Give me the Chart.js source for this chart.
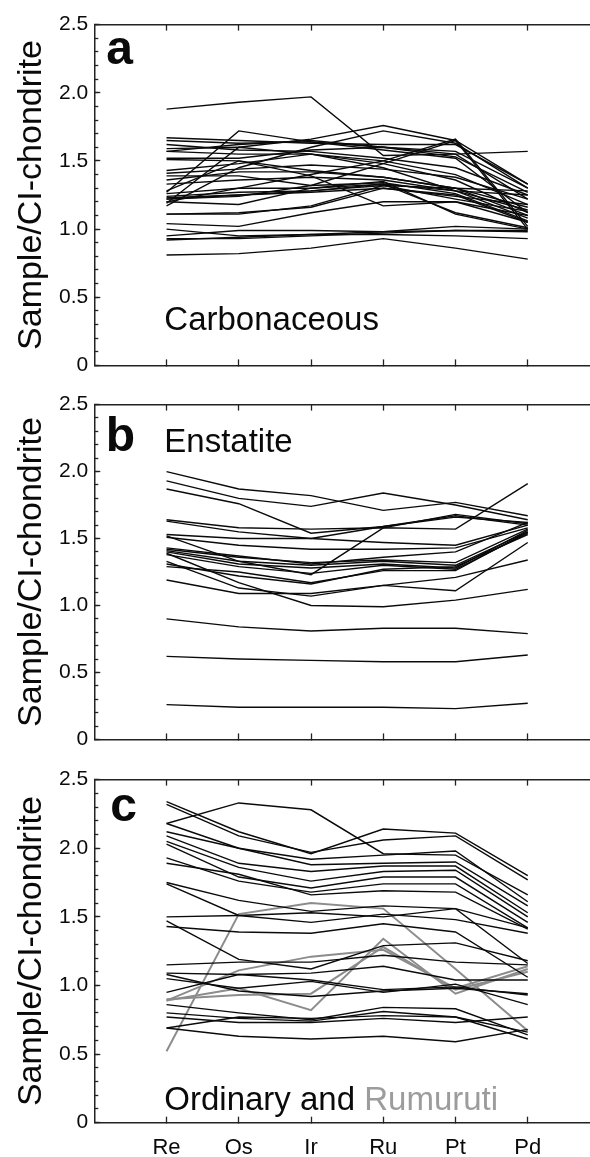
<!DOCTYPE html>
<html>
<head>
<meta charset="utf-8">
<script src="https://cdn.jsdelivr.net/npm/chart.js@4"></script>
<style>
  html, body { margin: 0; padding: 0; background: #fff; overflow: hidden; }
  body { width: 590px; height: 1157px; position: relative; }
  .panel { position: absolute; left: 0; width: 600px; }
</style>
</head>
<body>
<div class="panel" style="top:0px;height:390px"><canvas id="panelA" width="600" height="390"></canvas></div>
<div class="panel" style="top:380px;height:384px"><canvas id="panelB" width="600" height="384"></canvas></div>
<div class="panel" style="top:755px;height:402px"><canvas id="panelC" width="600" height="402"></canvas></div>
<script>
// element order along the x axis
const elements = ['Re', 'Os', 'Ir', 'Ru', 'Pt', 'Pd'];
const yTicks = [0, 0.5, 1.0, 1.5, 2.0, 2.5];

// one row per meteorite, values normalised to CI chondrite
const carbonaceous = [
  [1.88, 1.93, 1.97, 1.54, 1.55, 1.57],
  [1.67, 1.65, 1.63, 1.62, 1.62, 1.33],
  [1.65, 1.63, 1.64, 1.60, 1.57, 1.30],
  [1.62, 1.58, 1.57, 1.52, 1.45, 1.25],
  [1.59, 1.60, 1.55, 1.50, 1.40, 1.18],
  [1.57, 1.62, 1.65, 1.60, 1.55, 1.22],
  [1.57, 1.55, 1.55, 1.48, 1.36, 1.12],
  [1.52, 1.52, 1.58, 1.60, 1.53, 1.27],
  [1.51, 1.50, 1.43, 1.38, 1.30, 1.10],
  [1.43, 1.48, 1.55, 1.45, 1.28, 1.08],
  [1.41, 1.44, 1.47, 1.44, 1.38, 1.22],
  [1.39, 1.39, 1.32, 1.34, 1.26, 1.06],
  [1.36, 1.42, 1.42, 1.38, 1.30, 1.16],
  [1.33, 1.36, 1.38, 1.36, 1.28, 1.14],
  [1.27, 1.72, 1.64, 1.58, 1.52, 1.12],
  [1.28, 1.50, 1.39, 1.17, 1.20, 1.05],
  [1.19, 1.60, 1.66, 1.76, 1.65, 1.33],
  [1.17, 1.45, 1.60, 1.72, 1.63, 1.30],
  [1.26, 1.30, 1.30, 1.33, 1.28, 1.25],
  [1.24, 1.27, 1.28, 1.32, 1.30, 1.28],
  [1.23, 1.25, 1.27, 1.30, 1.25, 1.05],
  [1.22, 1.24, 1.32, 1.48, 1.65, 1.00],
  [1.20, 1.30, 1.40, 1.50, 1.66, 1.02],
  [1.22, 1.25, 1.28, 1.33, 1.12, 1.01],
  [1.20, 1.18, 1.30, 1.35, 1.11, 1.00],
  [1.11, 1.11, 1.17, 1.32, 1.22, 1.13],
  [1.11, 1.12, 1.16, 1.30, 1.24, 1.18],
  [1.04, 1.02, 1.12, 1.20, 1.20, 1.10],
  [1.00, 0.95, 0.96, 0.98, 0.99, 0.98],
  [0.95, 0.99, 0.99, 0.98, 1.02, 1.00],
  [0.93, 0.93, 0.95, 0.97, 0.99, 0.99],
  [0.92, 0.94, 0.96, 0.96, 0.95, 0.93],
  [0.81, 0.82, 0.86, 0.93, 0.86, 0.78]
];

const enstatite = [
  [2.00, 1.87, 1.82, 1.71, 1.77, 1.67],
  [1.93, 1.80, 1.74, 1.84, 1.75, 1.64],
  [1.87, 1.76, 1.54, 1.59, 1.67, 1.60],
  [1.64, 1.58, 1.57, 1.58, 1.57, 1.91],
  [1.63, 1.55, 1.50, 1.59, 1.66, 1.62],
  [1.53, 1.50, 1.50, 1.47, 1.45, 1.60],
  [1.51, 1.45, 1.42, 1.42, 1.43, 1.58],
  [1.52, 1.33, 1.23, 1.58, 1.68, 1.61],
  [1.43, 1.37, 1.31, 1.36, 1.40, 1.62],
  [1.42, 1.36, 1.32, 1.34, 1.32, 1.57],
  [1.41, 1.33, 1.30, 1.33, 1.30, 1.55],
  [1.40, 1.31, 1.28, 1.31, 1.28, 1.56],
  [1.38, 1.29, 1.24, 1.30, 1.27, 1.54],
  [1.31, 1.22, 1.16, 1.27, 1.29, 1.53],
  [1.29, 1.25, 1.17, 1.26, 1.26, 1.55],
  [1.33, 1.13, 1.07, 1.15, 1.11, 1.47],
  [1.39, 1.17, 1.00, 0.99, 1.04, 1.12],
  [1.19, 1.09, 1.09, 1.15, 1.21, 1.34],
  [0.90, 0.84, 0.81, 0.83, 0.83, 0.79],
  [0.62, 0.60, 0.59, 0.58, 0.58, 0.63],
  [0.26, 0.24, 0.24, 0.24, 0.23, 0.27]
];

const ordinary = [
  [2.34, 2.12, 1.96, 2.14, 2.11, 1.80],
  [2.32, 2.09, 1.97, 2.06, 2.09, 1.77],
  [2.18, 2.33, 2.28, 1.96, 1.95, 1.66],
  [2.18, 2.00, 1.92, 1.95, 1.98, 1.61],
  [2.12, 2.00, 1.88, 1.89, 1.90, 1.58],
  [2.09, 1.89, 1.83, 1.87, 1.87, 1.53],
  [2.05, 1.86, 1.76, 1.83, 1.84, 1.50],
  [2.03, 1.79, 1.71, 1.79, 1.79, 1.46],
  [1.93, 1.76, 1.68, 1.74, 1.74, 1.42],
  [1.89, 1.81, 1.66, 1.69, 1.68, 1.41],
  [1.75, 1.62, 1.54, 1.58, 1.56, 1.42],
  [1.74, 1.51, 1.46, 1.52, 1.48, 1.38],
  [1.50, 1.51, 1.53, 1.50, 1.56, 1.16],
  [1.43, 1.39, 1.38, 1.45, 1.39, 1.06],
  [1.47, 1.19, 1.12, 1.29, 1.31, 1.18],
  [1.15, 1.17, 1.17, 1.22, 1.17, 1.15],
  [1.09, 1.08, 1.09, 1.14, 1.04, 1.04],
  [1.08, 0.96, 0.92, 0.96, 0.98, 0.94],
  [1.05, 0.98, 1.03, 0.95, 1.01, 0.86],
  [0.95, 1.08, 1.04, 0.97, 0.99, 0.93],
  [0.86, 0.80, 0.75, 0.84, 0.83, 0.64],
  [0.80, 0.76, 0.74, 0.81, 0.77, 0.66],
  [0.77, 0.73, 0.73, 0.76, 0.73, 0.77],
  [0.69, 0.77, 0.76, 0.78, 0.77, 0.61],
  [0.69, 0.63, 0.61, 0.63, 0.59, 0.68]
];

const rumuruti = [
  [0.52, 1.52, 1.60, 1.56, 1.12, 0.67],
  [0.89, 0.98, 0.82, 1.34, 0.94, 1.12],
  [0.90, 0.93, 0.94, 1.28, 0.97, 1.10],
  [0.89, 1.11, 1.21, 1.26, 0.98, 1.14]
];

const ink = '#0a0a0a';
const grey = '#8c8c8c';
const axisColor = '#222';
const fontFamily = '"Liberation Sans", Arial, Helvetica, sans-serif';

Chart.defaults.font.family = fontFamily;
Chart.defaults.color = ink;

function lineSets(rows, color, width) {
  return rows.map(row => ({
    data: row.map((v, i) => ({ x: i + 1, y: v })),
    borderColor: color,
    borderWidth: width,
    pointRadius: 0,
    tension: 0,
    fill: false
  }));
}

// panel letter and group name, placed relative to the plot area
const panelText = {
  id: 'panelText',
  afterDraw(chart, args, opts) {
    const { ctx, chartArea } = chart;
    ctx.save();
    ctx.textAlign = 'left';
    ctx.textBaseline = 'alphabetic';
    ctx.fillStyle = ink;
    ctx.font = 'bold 48px ' + fontFamily;
    ctx.fillText(opts.letter, chartArea.left + opts.letterX, chartArea.top + opts.letterY);
    ctx.font = '33px ' + fontFamily;
    let x = chartArea.left + 70;
    for (const [text, color] of opts.name) {
      ctx.fillStyle = color;
      ctx.fillText(text, x, chartArea.top + opts.nameY);
      x += ctx.measureText(text).width;
    }
    ctx.restore();
  }
};

function panelScales(showNames, bottomSpace) {
  const tickGrid = (len) => ({
    drawOnChartArea: false, tickLength: len, tickColor: axisColor, tickWidth: 1.3
  });
  return {
    x: {
      type: 'linear', position: 'bottom', min: 0, max: 7,
      afterBuildTicks: s => { s.ticks = elements.map((_, i) => ({ value: i + 1 })); },
      afterFit: s => { s.height = bottomSpace; },
      grid: tickGrid(-6),
      border: { color: axisColor, width: 1.5 },
      ticks: {
        display: showNames, padding: 18, color: ink, maxRotation: 0,
        font: { size: 22 },
        callback: v => elements[v - 1] || ''
      }
    },
    xTop: {
      type: 'linear', position: 'top', min: 0, max: 7,
      afterBuildTicks: s => { s.ticks = elements.map((_, i) => ({ value: i + 1 })); },
      afterFit: s => { s.height = 0; },
      grid: tickGrid(-6),
      border: { color: axisColor, width: 1.5 },
      ticks: { display: false }
    },
    y: {
      type: 'linear', position: 'left', min: 0, max: 2.5, weight: 1,
      afterBuildTicks: s => { s.ticks = yTicks.map(v => ({ value: v })); },
      afterFit: s => { s.width = 94.3; },
      grid: tickGrid(-6),
      border: { color: axisColor, width: 1.5 },
      ticks: {
        padding: 12, color: ink, font: { size: 21 },
        callback: v => v === 0 ? '0' : v.toFixed(1)
      },
      title: {
        display: true, text: 'Sample/CI-chondrite', color: ink,
        font: { size: 34 }, padding: { top: 11, bottom: 0 }
      }
    },
    yMinor: {
      type: 'linear', position: 'left', min: 0, max: 2.5, weight: 0,
      afterFit: s => { s.width = 0; },
      grid: tickGrid(-4),
      border: { display: false },
      ticks: { display: false, stepSize: 0.1, maxTicksLimit: 40 }
    }
  };
}

function makePanel(id, datasets, top, bottom, text, showNames) {
  return new Chart(document.getElementById(id), {
    type: 'line',
    data: { datasets },
    options: {
      responsive: false,
      animation: false,
      events: [],
      layout: { padding: { top, bottom: 0, left: 0, right: 0 } },
      scales: panelScales(showNames, bottom),
      plugins: {
        legend: { display: false },
        tooltip: { enabled: false },
        panelText: text
      }
    },
    plugins: [panelText]
  });
}

makePanel('panelA', lineSets(carbonaceous, ink, 1.4), 22.7, 14.3,
  { letter: 'a', letterX: 12, letterY: 39.5, name: [['Carbonaceous', ink]], nameY: 305 },
  false);

makePanel('panelB', lineSets(enstatite, ink, 1.4), 16.7, 15,
  { letter: 'b', letterX: 11.5, letterY: 46.3, name: [['Enstatite', ink]], nameY: 47.3 },
  false);

makePanel('panelC', lineSets(ordinary, ink, 1.4).concat(lineSets(rumuruti, grey, 2)), 14.3, 34.3,
  { letter: 'c', letterX: 16, letterY: 41, name: [['Ordinary and ', ink], ['Rumuruti', '#9c9c9c']], nameY: 330.7 },
  true);
</script>
</body>
</html>
